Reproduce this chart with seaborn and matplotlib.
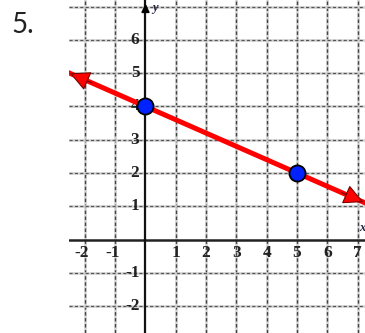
import matplotlib
matplotlib.use("Agg")
import matplotlib.pyplot as plt
import seaborn as sns
import pandas as pd

# data
line_x = [-2.55, 7.25]
line_y = [5.02, 1.1]
point_x = [0, 5]
point_y = [4, 2]
x_ticks = [-2, -1, 1, 2, 3, 4, 5, 6, 7]
y_ticks = [-2, -1, 1, 2, 3, 4, 5, 6]
grid_x = [-2, -1, 0, 1, 2, 3, 4, 5, 6, 7]
grid_y = [-2, -1, 0, 1, 2, 3, 4, 5, 6, 7]

sns.set_style("white")

fig = plt.figure(figsize=(3.65, 3.33), dpi=100)
fig.text(0.032, 0.9, "5.", fontsize=20, family="Lato", color="#222222")

ax = fig.add_axes([0.189, 0.0, 0.811, 1.0])
ax.set_xlim(-2.525, 7.244)
ax.set_ylim(-2.81, 7.2)
for s in ax.spines.values():
    s.set_visible(False)
ax.set_xticks([])
ax.set_yticks([])

# grid: light gray line with darker dashes on top
for gx in grid_x:
    if gx == 0:
        continue
    ax.axvline(gx, color="#d2d2d2", lw=1.8, zorder=1)
    ax.axvline(gx, color="#444444", lw=1.0, ls=(0, (2.5, 1.8)), zorder=1)
for gy in grid_y:
    if gy == 0:
        continue
    ax.axhline(gy, color="#d2d2d2", lw=1.8, zorder=1)
    ax.axhline(gy, color="#555555", lw=0.9, ls=(0, (2.5, 1.8)), zorder=1)

# axes
ax.axhline(0, color="#222222", lw=1.8, zorder=2)
ax.axvline(0, color="#111111", lw=1.6, zorder=2)
ax.annotate("", xy=(0, 7.17), xytext=(0, 6.9),
            arrowprops=dict(arrowstyle="-|>", color="black", lw=1.2,
                            mutation_scale=12), zorder=3)
ax.text(0.33, 6.95, "y", fontsize=9, family="Liberation Serif",
        style="italic", weight="bold", color="#222244", ha="center", va="center")
ax.text(7.244, 0.35, "x", fontsize=9, family="Liberation Serif",
        style="italic", weight="bold", color="#222244", ha="right", va="center")

# tick labels
for t in x_ticks:
    lab = str(t) if t > 0 else "-" + str(-t)
    off = -0.1 if t < 0 else 0
    ax.text(t + off, -0.42, lab, fontsize=12.5, family="Liberation Serif",
            weight="bold", color="#222222", ha="center", va="center")
for t in y_ticks:
    lab = str(t) if t > 0 else "-" + str(-t)
    ax.text(-0.2, t, lab, fontsize=12.5, family="Liberation Serif",
            weight="bold", color="#222222", ha="right", va="center", zorder=2)

# red line with arrows
df_line = pd.DataFrame({"x": line_x, "y": line_y})
sns.lineplot(data=df_line, x="x", y="y", color="#ff0000", lw=3.6,
             ax=ax, zorder=4, legend=False)
for i, j in [(0, 1), (1, 0)]:
    dx = line_x[j] - line_x[i]
    dy = line_y[j] - line_y[i]
    tip = (line_x[i] + dx * 0.006, line_y[i] + dy * 0.006)
    ax.annotate("", xy=tip,
                xytext=(line_x[i] + dx * 0.08, line_y[i] + dy * 0.08),
                arrowprops=dict(arrowstyle="-|>,head_length=0.9,head_width=0.45",
                                fc="#ff0000", ec="#770000", lw=0.8,
                                mutation_scale=14, shrinkA=0, shrinkB=0),
                zorder=5, annotation_clip=False)

# points
df_pts = pd.DataFrame({"x": point_x, "y": point_y})
sns.scatterplot(data=df_pts, x="x", y="y", s=135, color="#0022ff",
                edgecolor="black", linewidth=1.3, ax=ax, zorder=6, legend=False)
ax.set_xlabel("")
ax.set_ylabel("")

fig.savefig("out.png", dpi=100)
